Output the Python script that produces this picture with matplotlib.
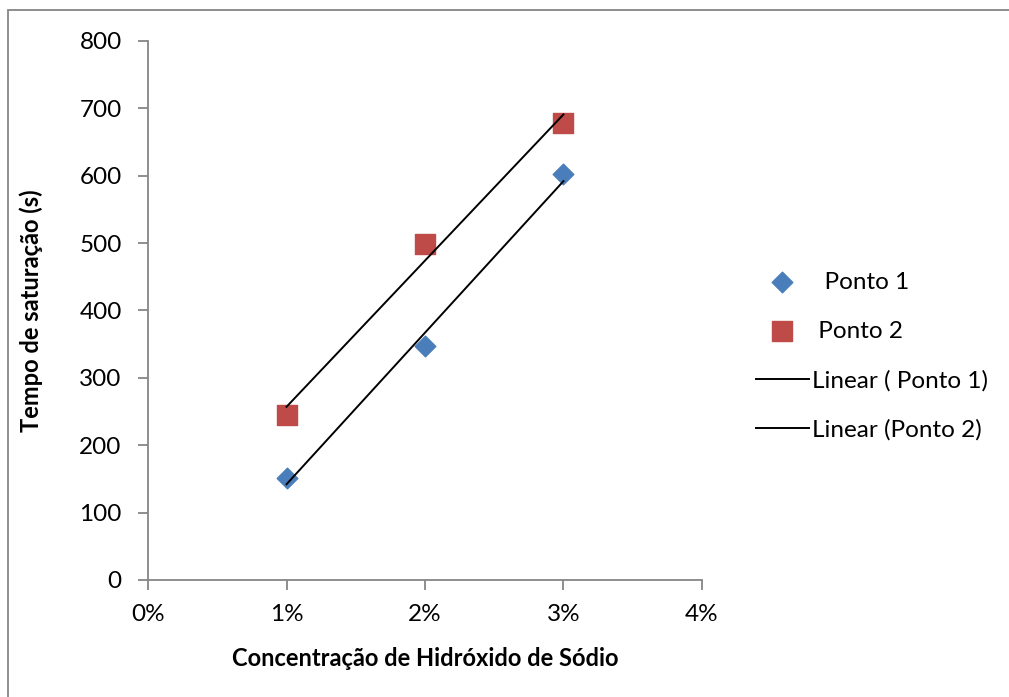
import numpy as np
import matplotlib.pyplot as plt
from matplotlib.patches import Rectangle
from matplotlib.ticker import FuncFormatter

# Sodium hydroxide concentration (fraction) and saturation time (s)
concentracao = [0.01, 0.02, 0.03]
ponto_1 = [152, 347, 602]
ponto_2 = [245, 498, 679]

plt.rcParams['font.family'] = ['Lato', 'DejaVu Sans']

fig = plt.figure(figsize=(10.09, 6.97), dpi=100)
ax = fig.add_axes([0.1467, 0.1679, 0.549, 0.7733])

# outer chart border (only left/top edges visible)
fig.patches.append(Rectangle((8 / 1009, -0.05), 1.2, 1 - 10 / 697 + 0.05,
                             transform=fig.transFigure, fill=False,
                             edgecolor='#868686', linewidth=1.3))

ax.scatter(concentracao, ponto_1, marker='D', s=110, color='#4a7ebb',
           zorder=3, label='  Ponto 1')
ax.scatter(concentracao, ponto_2, marker='s', s=190, color='#be4b48',
           zorder=3, label=' Ponto 2')

# linear trendlines
x = np.array(concentracao)
for serie, nome in [(ponto_1, 'Linear ( Ponto 1)'), (ponto_2, 'Linear (Ponto 2)')]:
    a, b = np.polyfit(x, serie, 1)
    ax.plot(x, a * x + b, color='black', linewidth=1.4, zorder=4, label=nome)

ax.set_xlim(0, 0.04)
ax.set_ylim(0, 800)
ax.set_xticks([0, 0.01, 0.02, 0.03, 0.04])
ax.set_yticks(range(0, 801, 100))
ax.xaxis.set_major_formatter(FuncFormatter(lambda v, p: f'{v * 100:.0f}%'))

for s in ['top', 'right']:
    ax.spines[s].set_visible(False)
for s in ['left', 'bottom']:
    ax.spines[s].set_color('#868686')
    ax.spines[s].set_linewidth(1.3)
ax.tick_params(axis='both', colors='#868686', labelcolor='black',
               labelsize=17.5, length=7, width=1.3, direction='out')
ax.tick_params(axis='x', pad=10)
ax.tick_params(axis='y', pad=12)

ax.set_xlabel('Concentração de Hidróxido de Sódio', fontsize=17,
              fontweight='bold', labelpad=16)
ax.set_ylabel('Tempo de saturação (s)', fontsize=17, fontweight='bold',
              labelpad=26)

ax.legend(loc='center left', bbox_to_anchor=(1.075, 0.415), frameon=False,
          fontsize=17.5, handlelength=2.2, handletextpad=0.1,
          labelspacing=1.15, borderpad=0)

fig.savefig('out.png', dpi=100, facecolor='white')
